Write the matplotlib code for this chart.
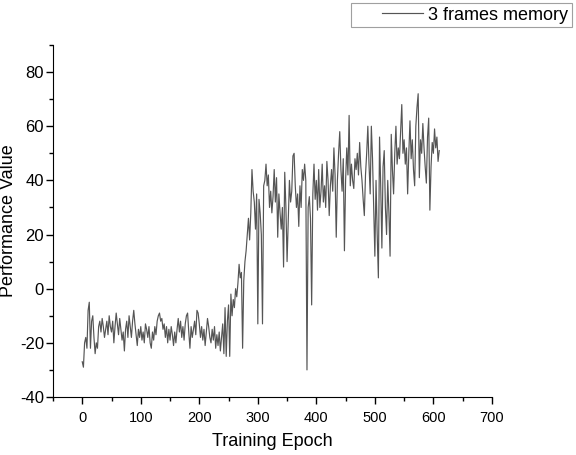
import numpy as np
import matplotlib
matplotlib.use("Agg")
import matplotlib.pyplot as plt
from matplotlib.lines import Line2D
from matplotlib.legend_handler import HandlerLine2D

plt.rcParams['font.family'] = ['Liberation Sans', 'DejaVu Sans']
plt.rcParams['axes.unicode_minus'] = False

# performance, one value every 2 epochs
early = [
    -27, -29, -20, -18, -22, -8, -5, -22, -12, -10,
    -18, -24, -20, -22, -14, -12, -16, -11, -14, -18,
    -15, -12, -17, -10, -14, -16, -12, -20, -14, -9,
    -13, -17, -11, -15, -19, -16, -23, -15, -12, -18,
    -10, -14, -18, -12, -8, -13, -17, -21, -15, -18,
    -14, -19, -16, -20, -13, -15, -18, -14, -20, -22,
    -16, -19, -14, -17, -12, -10, -9, -12, -11, -15,
    -13, -18, -14, -20, -15, -19, -14, -17, -21, -16,
    -20, -15, -11, -16, -12, -18, -14, -19, -13, -10,
    -9, -16, -22, -14, -18, -15, -12, -17, -8, -9,
    -13, -18, -14, -19, -15, -21, -16, -11, -14, -18,
    -20, -15, -19, -14, -22, -17, -21, -16, -23, -18,
    -13, -24, -7,
]
late = [
    -25, -12, -6, -25, -2, -10, -4, -7, 0, -3,
    2, 9, 4, 6, -22, 3, 10, 14, 20, 26,
    18, 28, 44, 36, 32, 22, 35, -13, 33, 28,
    20, -13, 38, 40, 46, 38, 42, 30, 36, 28,
    34, 44, 32, 41, 19, 35, 28, 22, 30, 8,
    43, 30, 10, 25, 40, 32, 36, 49, 50, 38,
    30, 35, 23, 38, 30, 44, 40, 46, 40, -30,
    30, 34, 26, -6, 35, 46, 33, 40, 29, 44,
    30, 36, 46, 32, 38, 30, 47, 40, 27, 38,
    44, 36, 52, 42, 19, 40, 50, 58, 44, 36,
    48, 14, 40, 52, 42, 64, 38, 46, 40, 37,
    48, 44, 50, 42, 54, 45, 40, 33, 27, 42,
    50, 60, 46, 35, 60, 48, 30, 12, 40, 20,
    4, 56, 38, 15, 45, 51, 30, 20, 40, 28,
    12, 57, 44, 35, 50, 60, 46, 52, 48, 58,
    68, 50, 55, 46, 52, 35, 50, 62, 48, 55,
    44, 38, 60, 67, 72, 41, 55, 50, 61, 52,
    45, 39, 56, 63, 29, 45, 54, 50, 59, 52,
    56, 47, 51,
]
performance = early + late
epochs = np.arange(0, 2 * len(performance), 2)

fig = plt.figure(figsize=(5.76, 4.55), dpi=100)
ax = fig.add_axes([0.092, 0.1275, 0.762, 0.7736])

ax.plot(epochs, performance, color='#555555', lw=0.85, label='3 frames memory')

ax.set_xlim(-50, 700)
ax.set_ylim(-40, 90)
ax.set_xticks(np.arange(0, 701, 100))
ax.set_xticks(np.arange(-50, 701, 50), minor=True)
ax.set_yticks(np.arange(-40, 81, 20))
ax.set_yticks(np.arange(-40, 91, 10), minor=True)
ax.spines['top'].set_visible(False)
ax.spines['right'].set_visible(False)
ax.tick_params(which='major', direction='out', length=5, width=1)
ax.tick_params(which='minor', direction='out', length=3, width=1)
ax.tick_params(axis='x', labelsize=10.5, pad=5)
ax.tick_params(axis='y', labelsize=12, pad=1.5)

ax.set_xlabel('Training Epoch', fontsize=13, labelpad=6)
ax.set_ylabel('Performance Value', fontsize=13, va='center')
ax.yaxis.set_label_coords(-0.102, 0.5)

leg = fig.legend(loc='upper right', bbox_to_anchor=(572 / 576, 1 - 3 / 455),
                 fontsize=13, frameon=True, fancybox=False, handlelength=3.8,
                 handler_map={Line2D: HandlerLine2D(xpad=1.55)},
                 borderaxespad=0, borderpad=0.2, handletextpad=0.3)
leg.get_frame().set_edgecolor('#888888')
leg.get_frame().set_linewidth(0.8)

fig.savefig('out.png', dpi=100)
